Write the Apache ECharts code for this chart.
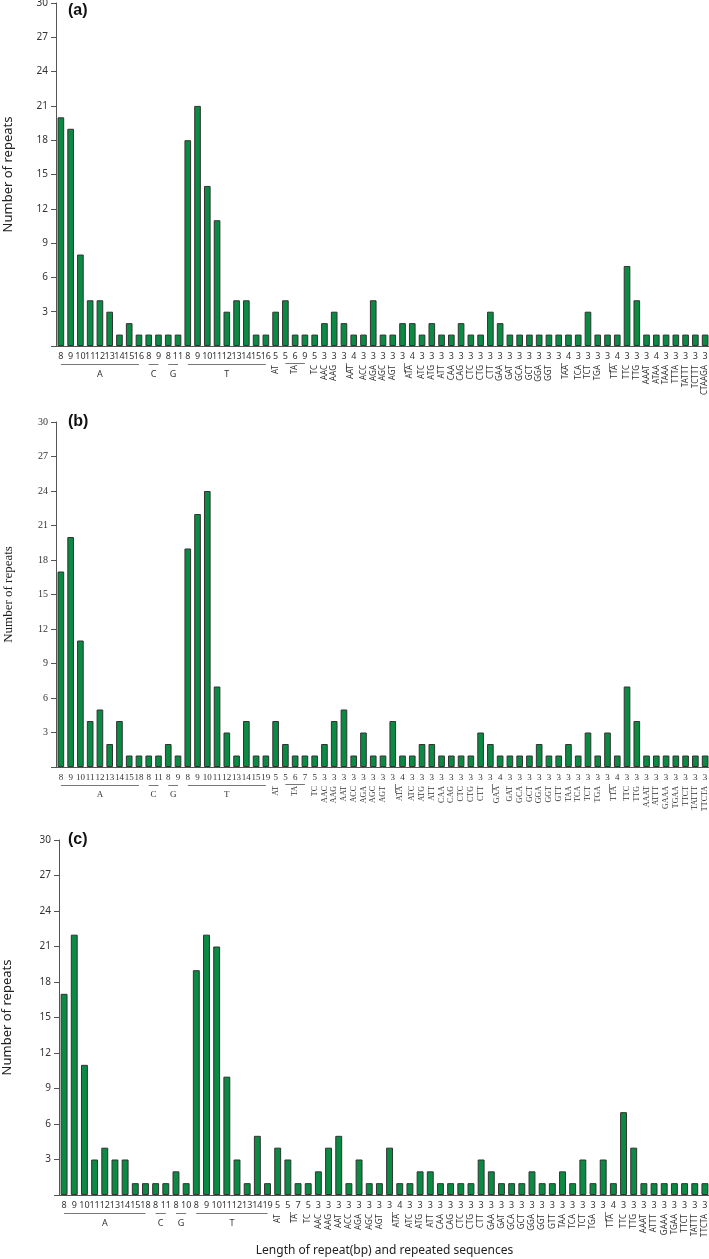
<!DOCTYPE html>
<html>
<head>
<meta charset="utf-8">
<script src="https://cdn.jsdelivr.net/npm/echarts@6/dist/echarts.min.js"></script>
<style>
html, body { margin: 0; padding: 0; background: #fff; }
#main { width: 709px; height: 1259px; }
</style>
</head>
<body>
<div id="main"></div>
<script>
// panel (a)
var seqA = ['A','A','A','A','A','A','A','A','A','C','C','G','G','T','T','T','T','T','T','T','T','T',
  'AT','TA','TA','TA','TC','AAC','AAG','AAT','AAT','ACC','AGA','AGC','AGT','ATA','ATA','ATC','ATG','ATT',
  'CAA','CAG','CTC','CTG','CTT','GAA','GAT','GCA','GCT','GGA','GGT','TAA','TAA','TCA','TCT','TGA','TTA','TTA',
  'TTC','TTG','AAAT','ATAA','TAAA','TTTA','TATTT','TCTTT','CTAAGA'];
var lenA = [8,9,10,11,12,13,14,15,16, 8,9, 8,11, 8,9,10,11,12,13,14,15,16,
  5, 5,6,9, 5,
  3,3,3,4,3,3,3,3,3,4,3,3,3,3,3,3,3,3,3,3,3,3,3,3,3,4,3,3,3,3,4,3,3,
  3,4,3,3,3,3,3];
var valA = [20,19,8,4,4,3,1,2,1, 1,1, 1,1, 18,21,14,11,3,4,4,1,1,
  3, 4,1,1, 1,
  2,3,2,1,1,4,1,1,2,2,1,2,1,1,2,1,1,3,2,1,1,1,1,1,1,1,1,3,1,1,1,7,4,
  1,1,1,1,1,1,1];

// panel (b)
var seqB = ['A','A','A','A','A','A','A','A','A','C','C','G','G','T','T','T','T','T','T','T','T','T',
  'AT','TA','TA','TA','TC','AAC','AAG','AAT','ACC','AGA','AGC','AGT','ATA','ATA','ATC','ATG','ATT',
  'CAA','CAG','CTC','CTG','CTT','GAA','GAA','GAT','GCA','GCT','GGA','GGT','GTT','TAA','TCA','TCT','TGA',
  'TTA','TTA','TTC','TTG','AAAT','ATTT','GAAA','TGAA','TTCT','TATTT','TTCTA'];
var lenB = [8,9,10,11,12,13,14,15,18, 8,11, 8,9, 8,9,10,11,12,13,14,15,19,
  5, 5,6,7, 5,
  3,3,3,3,3,3,3,3,4,3,3,3,3,3,3,3,3,3,4,3,3,3,3,3,3,3,3,3,3,3,4,3,3,
  3,3,3,3,3,3,3];
var valB = [17,20,11,4,5,2,4,1,1, 1,1, 2,1, 19,22,24,7,3,1,4,1,1,
  4, 2,1,1, 1,
  2,4,5,1,3,1,1,4,1,1,2,2,1,1,1,1,3,2,1,1,1,1,2,1,1,2,1,3,1,3,1,7,4,
  1,1,1,1,1,1,1];

// panel (c)
var seqC = ['A','A','A','A','A','A','A','A','A','C','C','G','G','T','T','T','T','T','T','T','T',
  'AT','TA','TA','TC','AAC','AAG','AAT','ACC','AGA','AGC','AGT','ATA','ATA','ATC','ATG','ATT',
  'CAA','CAG','CTC','CTG','CTT','GAA','GAT','GCA','GCT','GGA','GGT','GTT','TAA','TCA','TCT','TGA',
  'TTA','TTA','TTC','TTG','AAAT','ATTT','GAAA','TGAA','TTCT','TATTT','TTCTA'];
var lenC = [8,9,10,11,12,13,14,15,18, 8,11, 8,10, 8,9,10,11,12,13,14,19,
  5, 5,7, 5,
  3,3,3,3,3,3,3,3,4,3,3,3,3,3,3,3,3,3,3,3,3,3,3,3,3,3,3,3,3,4,3,3,
  3,3,3,3,3,3,3];
var valC = [17,22,11,3,4,3,3,1,1, 1,1, 2,1, 19,22,21,10,3,1,5,1,
  4, 3,1, 1,
  2,4,5,1,3,1,1,4,1,1,2,2,1,1,1,1,3,2,1,1,1,2,1,1,2,1,3,1,3,1,7,4,
  1,1,1,1,1,1,1];

var panels = [
  { tag: '(a)', seq: seqA, len: lenA, val: valA, left: 56, top: 3, height: 343, titleTop: 3, font: 'Noto Sans' },
  { tag: '(b)', seq: seqB, len: lenB, val: valB, left: 56, top: 422, height: 345, titleTop: 414, font: 'Liberation Serif' },
  { tag: '(c)', seq: seqC, len: lenC, val: valC, left: 59, top: 840, height: 355, titleTop: 832, font: 'Noto Sans' }
];

var chart = echarts.init(document.getElementById('main'));

var option = {
  animation: false,
  title: panels.map(function (p) {
    return {
      text: p.tag, left: 68, top: p.titleTop, padding: 0,
      textStyle: { fontSize: 16, fontWeight: 'bold', fontFamily: 'Liberation Sans', color: '#111' }
    };
  }),
  grid: panels.map(function (p) {
    return { left: p.left, top: p.top, width: 710 - p.left, height: p.height, outerBoundsMode: 'none', containLabel: false };
  }),
  xAxis: panels.map(function (p, i) {
    return {
      gridIndex: i,
      type: 'category',
      data: p.len.map(function (v, k) { return String(k); }),
      axisLine: { lineStyle: { color: '#555' } },
      axisTick: { show: false },
      axisLabel: {
        interval: 0, margin: 6, fontSize: 9, fontFamily: p.font, color: '#333',
        formatter: function (v, k) { return String(p.len[k]); }
      },
      name: i === 2 ? 'Length of repeat(bp) and repeated sequences' : '',
      nameLocation: 'middle',
      nameGap: 50,
      nameTextStyle: { fontSize: 12, fontFamily: 'Noto Sans', color: '#222' }
    };
  }),
  yAxis: panels.map(function (p, i) {
    return {
      gridIndex: i,
      type: 'value',
      min: 0, max: 30, interval: 3,
      splitLine: { show: false },
      axisLine: { show: true, lineStyle: { color: '#555' } },
      axisTick: { show: true, length: 5, lineStyle: { color: '#555' } },
      axisLabel: {
        margin: 8, fontSize: 10, fontFamily: p.font, color: '#333',
        formatter: function (v) { return v === 0 ? '' : String(v); }
      },
      name: 'Number of repeats',
      nameLocation: 'middle',
      nameGap: i === 2 ? 45 : 41,
      nameRotate: 90,
      nameTextStyle: { fontSize: 13, fontFamily: p.font, color: '#222' }
    };
  }),
  series: panels.map(function (p, i) {
    return {
      type: 'bar',
      xAxisIndex: i, yAxisIndex: i,
      data: p.val,
      barCategoryGap: '32%',
      itemStyle: { color: '#0a8a42', borderColor: '#333', borderWidth: 1 }
    };
  })
};

chart.setOption(option);

// group brackets and sequence names under the length labels
var marks = [];
panels.forEach(function (p, i) {
  var y0 = chart.convertToPixel({ yAxisIndex: i }, 0);
  var font = '8px "' + p.font + '"';
  var k = 0;
  while (k < p.seq.length) {
    var e = k;
    while (e + 1 < p.seq.length && p.seq[e + 1] === p.seq[k]) e++;
    var xa = chart.convertToPixel({ xAxisIndex: i }, k);
    var xb = chart.convertToPixel({ xAxisIndex: i }, e);
    var mid = (xa + xb) / 2;
    var name = p.seq[k];
    if (name.length === 1) {
      marks.push({ type: 'line', shape: { x1: xa, y1: Math.round(y0 + 18) + 0.5, x2: xb, y2: Math.round(y0 + 18) + 0.5 },
        style: { stroke: '#777', lineWidth: 1 } });
      marks.push({ type: 'text', x: mid, y: y0 + 28,
        style: { text: name, font: '9px "' + p.font + '"', fill: '#333', align: 'center', verticalAlign: 'middle', textAlign: 'center', textVerticalAlign: 'middle' } });
    } else {
      var tx = mid;
      if (e - k >= 2) {
        marks.push({ type: 'line', shape: { x1: xa, y1: Math.round(y0 + 17) + 0.5, x2: xb, y2: Math.round(y0 + 17) + 0.5 },
          style: { stroke: '#777', lineWidth: 1 } });
      } else if (e - k === 1) {
        marks.push({ type: 'line', shape: { x1: Math.round(mid - 3) + 0.5, y1: y0 + 17, x2: Math.round(mid - 3) + 0.5, y2: y0 + 26 },
          style: { stroke: '#777', lineWidth: 1 } });
        tx = mid + 2;
      }
      marks.push({ type: 'text', x: tx, y: y0 + 19, rotation: Math.PI / 2,
        style: { text: name, font: font, fill: '#333', align: 'right', verticalAlign: 'middle', textAlign: 'right', textVerticalAlign: 'middle' } });
    }
    k = e + 1;
  }
});

chart.setOption({ graphic: marks });
</script>
</body>
</html>
